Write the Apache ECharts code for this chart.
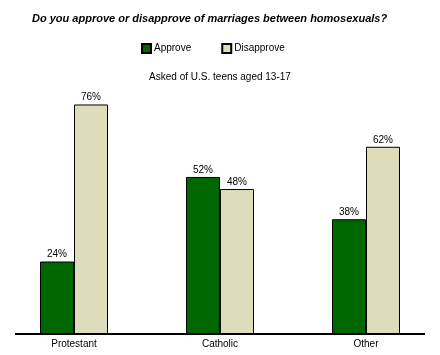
<!DOCTYPE html>
<html>
<head>
<meta charset="utf-8">
<script src="https://cdn.jsdelivr.net/npm/echarts@6/dist/echarts.min.js"></script>
<style>html,body{margin:0;padding:0;background:#fff;}#c{width:440px;height:355px;}</style>
</head>
<body>
<div id="c"></div>
<script>
var categories = ['Protestant', 'Catholic', 'Other'];
var approve = [24, 52, 38];
var disapprove = [76, 48, 62];
var seriesNames = ['Approve', 'Disapprove'];

var FONT = '"Liberation Sans", Arial, sans-serif';
var chart = echarts.init(document.getElementById('c'), null, {renderer: 'canvas'});
function lbl() {
  return {show: true, position: 'top', distance: 2, formatter: '{c}%', color: '#000', fontSize: 10, fontFamily: FONT};
}
chart.setOption({
  animation: false,
  backgroundColor: '#fff',
  title: [
    {text: 'Do you approve or disapprove of marriages between homosexuals?', left: 27, top: 8,
     textStyle: {fontSize: 11, fontWeight: 'bold', fontStyle: 'italic', color: '#000', fontFamily: FONT}},
    {text: 'Asked of U.S. teens aged 13-17', left: 'center', top: 67,
     textStyle: {fontSize: 10, fontWeight: 'normal', color: '#000', fontFamily: FONT}}
  ],
  legend: {
    data: seriesNames, left: 141, top: 43, padding: 0, itemWidth: 9, itemHeight: 9, itemGap: 30,
    icon: 'rect',
    textStyle: {fontSize: 10, color: '#000', fontFamily: FONT, padding: [0, 0, 0, -2]}
  },
  grid: {left: 1, right: 1, top: 32, bottom: 21},
  xAxis: {
    type: 'category', data: categories,
    axisLine: {show: false}, axisTick: {show: false},
    axisLabel: {color: '#000', fontSize: 10, fontFamily: FONT, margin: 5}
  },
  yAxis: {type: 'value', min: 0, max: 100, show: false},
  graphic: [{type: 'line', shape: {x1: 15, y1: 334, x2: 425, y2: 334}, style: {stroke: '#000', lineWidth: 2}, z: 10}],
  series: [
    {name: seriesNames[0], type: 'bar', data: approve, barWidth: 34, barGap: '0%',
     itemStyle: {color: '#006600', borderColor: '#000', borderWidth: 1}, label: lbl()},
    {name: seriesNames[1], type: 'bar', data: disapprove, barWidth: 34,
     itemStyle: {color: '#DDDDBB', borderColor: '#000', borderWidth: 1}, label: lbl()}
  ]
});
</script>
</body>
</html>
